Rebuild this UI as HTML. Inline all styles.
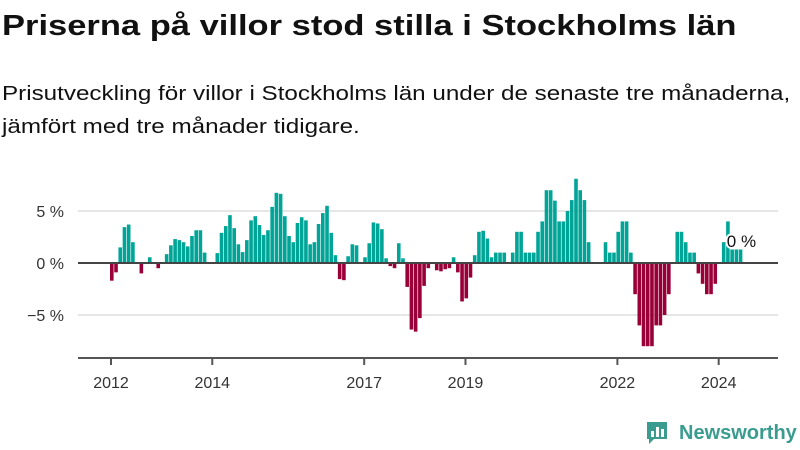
<!DOCTYPE html>
<html><head><meta charset="utf-8"><style>
body{margin:0;width:800px;height:450px;background:#fff;font-family:"Liberation Sans",sans-serif;overflow:hidden;position:relative}
h1{position:absolute;left:2px;top:10px;margin:0;font-size:29px;font-weight:bold;color:#111;white-space:nowrap;transform:scaleX(1.19);transform-origin:0 0}
p{position:absolute;left:2px;top:78px;margin:0;font-size:20px;line-height:33px;color:#111;white-space:nowrap;transform:scaleX(1.21);transform-origin:0 0}
svg{position:absolute;left:0;top:0}
</style></head><body>
<h1>Priserna på villor stod stilla i Stockholms län</h1>
<p>Prisutveckling för villor i Stockholms län under de senaste tre månaderna,<br>jämfört med tre månader tidigare.</p>
<svg id="chart" width="800" height="450"></svg>
<div style="position:absolute;left:645px;top:420px;display:flex;align-items:center">
<svg width="24" height="26" style="position:static"><path d="M2 2h20v17h-13l-5 5v-5h-2z" fill="#3a9c8f"/><rect x="6" y="11" width="3" height="6" fill="#fff"/><rect x="11" y="7" width="3" height="10" fill="#fff"/><rect x="16" y="9" width="3" height="8" fill="#fff"/></svg>
<span style="margin-left:10px;font-size:20px;font-weight:bold;color:#3a9c8f">Newsworthy</span></div>
<script>
const values=[-1.7,-0.9,1.5,3.45,3.7,2.0,0,-1.0,0,0.55,0,-0.5,0,0.85,1.7,2.3,2.2,2.0,1.6,2.6,3.15,3.15,1.0,0,0,0.95,2.9,3.55,4.6,3.35,1.8,1.05,2.2,4.1,4.5,3.65,2.7,3.15,5.4,6.75,6.65,4.5,2.6,2.0,3.85,4.4,4.1,1.8,2.0,3.75,4.8,5.5,2.9,0.75,-1.55,-1.65,0.65,
1.8,1.7,0,0.55,1.9,3.9,3.8,3.25,0.45,-0.3,-0.5,1.9,0.45,-2.3,-6.4,-6.6,-5.3,-2.2,-0.5,0,-0.7,-0.8,-0.6,-0.5,0.55,-0.9,-3.7,-3.4,-1.4,0.75,3.0,3.1,2.35,0.55,1.0,1.0,1.0,0,1.0,3.0,3.0,1.0,1.0,1.0,3.0,4.0,7.0,7.0,6.0,4.0,4.0,5.0,
6.05,8.1,7.0,6.05,2.0,0,0,0,2.0,1.0,1.0,3.0,4.0,4.0,1.0,-3,-6,-8,-8,-8,-6,-6,-5,-3,0,3,3,2,1,1,-1,-2,-3,-3,-2,0,2,4,1.3,1.3,1.3];
const startYear=2012;
const tickYears=[2012,2014,2017,2019,2022,2024];
const yTicks=[5,0,-5];
const yTickLabels=["5 %","0 %","−5 %"];
const lastLabel="0 %";
const NS="http://www.w3.org/2000/svg";
const svg=document.getElementById('chart');
const x=m=>110+m*4.22;
const y=v=>263-v*10.4;
function mk(t,a,txt){const e=document.createElementNS(NS,t);for(const k in a)e.setAttribute(k,a[k]);if(txt!=null)e.textContent=txt;svg.appendChild(e);return e;}
yTicks.forEach((t,i)=>{
 if(t!==0){const g=mk('line',{x1:78,x2:778,y1:y(t),y2:y(t),stroke:'#ddd','stroke-width':1.5});
 
 }
 const l=mk('text',{x:64,y:y(t)+6,'text-anchor':'end','font-size':16,fill:'#333'},yTickLabels[i]);
 
 
});
values.forEach((v,i)=>{
 const r=mk('rect',{x:x(i),width:3.6,y:Math.min(y(v),y(0)),height:Math.abs(y(v)-y(0)),fill:v>=0?'#00a598':'#990038'});
 
 
});
const z=mk('line',{x1:78,x2:778,y1:y(0),y2:y(0),stroke:'#444','stroke-width':2});


const ax=mk('line',{x1:78,x2:778,y1:358,y2:358,stroke:'#555','stroke-width':2});


tickYears.forEach(yr=>{
 const m=(yr-startYear)*12;
 const t=mk('line',{x1:x(m)+1,x2:x(m)+1,y1:358,y2:365,stroke:'#555','stroke-width':2});
 
 
 const l=mk('text',{x:x(m)+1,y:388,'text-anchor':'middle','font-size':16,fill:'#333'},String(yr));
 
 
});
const ll=mk('text',{x:x(values.length-1)-12,y:247,'font-size':17,fill:'#111',stroke:'#fff','stroke-width':4,'paint-order':'stroke'},lastLabel);


</script>
</body></html>
